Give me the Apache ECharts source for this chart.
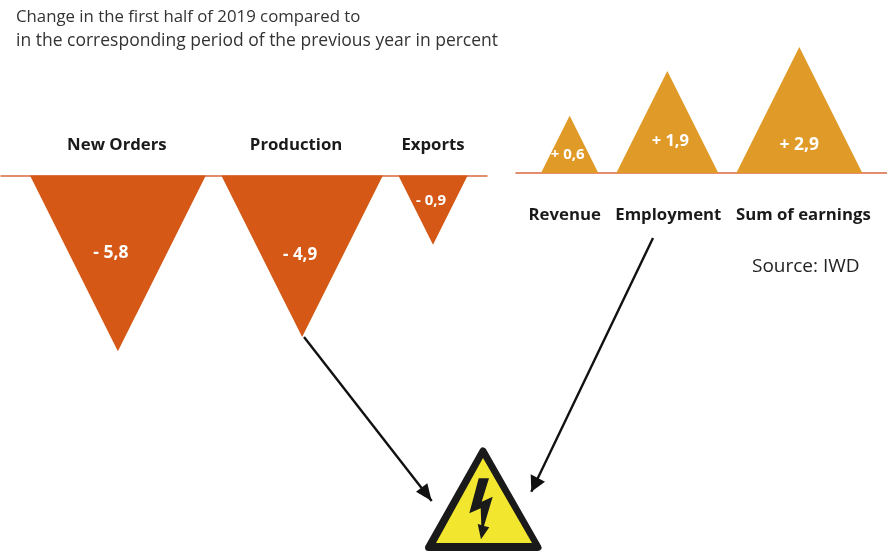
<!DOCTYPE html>
<html>
<head>
<meta charset="utf-8">
<style>html,body{margin:0;padding:0;background:#fff}#chart{width:887px;height:552px}</style>
<script src="https://cdn.jsdelivr.net/npm/echarts@6/dist/echarts.min.js"></script>
</head>
<body>
<div id="chart"></div>
<script>
// values in percent; triangle area is proportional to the value
var fallCategories = ['New Orders', 'Production', 'Exports'];
var fallValues = [-5.8, -4.9, -0.9];
var riseCategories = ['Revenue', 'Employment', 'Sum of earnings'];
var riseValues = [0.6, 1.9, 2.9];

var FONT = '"Open Sans", sans-serif';
var FALL_UNIT = 73; // px per unit of the sqrt axis
var RISE_UNIT = 74;

function side(value) {
    return Math.sqrt(Math.abs(value));
}

function fmt(value) {
    return (value < 0 ? '- ' : '+ ') + Math.abs(value).toFixed(1).replace('.', ',');
}

function triangles(cats, vals, start, gap, color, labelPos, catShift, catY) {
    return function (params, api) {
        var i = params.dataIndex;
        var v = api.value(1);
        var x0 = start;
        for (var n = 0; n < i; n++) x0 += side(vals[n]) + gap;
        var w = side(v);
        var h = v < 0 ? -w : w;
        var a = api.coord([x0, 0]);
        var b = api.coord([x0 + w, 0]);
        var tip = api.coord([x0 + w / 2, h]);
        var mid = (a[0] + b[0]) / 2;
        return {
            type: 'group',
            children: [
                {
                    type: 'polygon',
                    shape: {points: [a, b, tip]},
                    style: {fill: color}
                },
                {
                    type: 'text',
                    style: {
                        x: mid + labelPos[i][0],
                        y: a[1] + (tip[1] - a[1]) * labelPos[i][1],
                        text: fmt(v),
                        fill: '#fff',
                        font: '700 ' + labelPos[i][2] + 'px ' + FONT,
                        align: 'center',
                        verticalAlign: 'middle'
                    }
                },
                {
                    type: 'text',
                    style: {
                        x: mid + catShift[i],
                        y: a[1] + catY,
                        text: cats[i],
                        fill: '#1a1a1a',
                        font: '700 16.75px ' + FONT,
                        align: 'center',
                        verticalAlign: 'middle'
                    }
                }
            ]
        };
    };
}

function rows(vals) {
    return vals.map(function (v, i) { return [i, v]; });
}

function arrow(x1, y1, x2, y2, wingA, wingB) {
    return [
        {type: 'line', shape: {x1: x1, y1: y1, x2: x2, y2: y2}, style: {stroke: '#111', lineWidth: 2.4}},
        {type: 'polygon', shape: {points: [[x2, y2], wingA, wingB]}, style: {fill: '#111'}}
    ];
}

var axisLine = function (color) {
    return {show: true, onZero: true, lineStyle: {color: color, width: 1.5}};
};

var chart = echarts.init(document.getElementById('chart'));

var option = {
    animation: false,
    title: [
        {
            text: 'Change in the first half of 2019 compared to',
            left: 11,
            top: 4,
            textStyle: {fontFamily: FONT, fontSize: 16.8, fontWeight: 'normal', color: '#333'}
        },
        {
            text: 'in the corresponding period of the previous year in percent',
            left: 11,
            top: 27,
            textStyle: {fontFamily: FONT, fontSize: 17.5, fontWeight: 'normal', color: '#333'}
        },
        {
            text: 'Source: IWD',
            left: 747,
            top: 252,
            textStyle: {fontFamily: FONT, fontSize: 19, fontWeight: 'normal', color: '#222'}
        }
    ],
    grid: [
        {left: 1, top: 175.5, width: 486, height: 2.5 * FALL_UNIT},
        {left: 516, top: 173 - 2 * RISE_UNIT, width: 371, height: 2 * RISE_UNIT}
    ],
    xAxis: [
        {gridIndex: 0, type: 'value', min: 0, max: 486 / FALL_UNIT, axisLine: axisLine('#d8683f'), axisTick: {show: false}, axisLabel: {show: false}, splitLine: {show: false}},
        {gridIndex: 1, type: 'value', min: 0, max: 371 / RISE_UNIT, axisLine: axisLine('#d8683f'), axisTick: {show: false}, axisLabel: {show: false}, splitLine: {show: false}}
    ],
    yAxis: [
        {gridIndex: 0, type: 'value', min: -2.5, max: 0, show: false},
        {gridIndex: 1, type: 'value', min: 0, max: 2, show: false}
    ],
    series: [
        {
            type: 'custom',
            xAxisIndex: 0,
            yAxisIndex: 0,
            clip: false,
            silent: true,
            data: rows(fallValues),
            renderItem: triangles(fallCategories, fallValues, 29 / FALL_UNIT, 15.5 / FALL_UNIT, '#d55816',
                [[-7, 0.44, 17.5], [-2, 0.49, 17], [-2, 0.36, 15]], [-1, -6, 0], -30.5)
        },
        {
            type: 'custom',
            xAxisIndex: 1,
            yAxisIndex: 1,
            clip: false,
            silent: true,
            data: rows(riseValues),
            renderItem: triangles(riseCategories, riseValues, 25 / RISE_UNIT, 18 / RISE_UNIT, '#e09a27',
                [[-2, 0.31, 15], [3, 0.31, 16.5], [0, 0.22, 17.5]], [-5, 1, 4], 42)
        }
    ],
    graphic: {
        elements: [].concat(
            arrow(304, 337, 431.7, 501, [416, 491.7], [427.3, 483.3]),
            arrow(653, 238, 531.3, 491.7, [530.7, 474.3], [545, 481.7]),
            [
                {
                    type: 'polygon',
                    shape: {points: [[483, 451], [538, 547.5], [428.5, 547.5]]},
                    style: {fill: '#1a1a1a', stroke: '#1a1a1a', lineWidth: 7, lineJoin: 'round'}
                },
                {
                    type: 'polygon',
                    shape: {points: [[483, 458], [532, 543], [436, 543]]},
                    style: {fill: '#f2e62e'}
                },
                {
                    type: 'polygon',
                    shape: {points: [[478.7, 478.3], [489, 478.3], [481.7, 501.7], [492.7, 496.7], [484, 526], [489.3, 527.3], [481, 539.3], [477.7, 524], [481.3, 525], [480.7, 508.3], [469.3, 513.3]]},
                    style: {fill: '#1a1a1a'}
                }
            ]
        )
    }
};

chart.setOption(option);
</script>
</body>
</html>
